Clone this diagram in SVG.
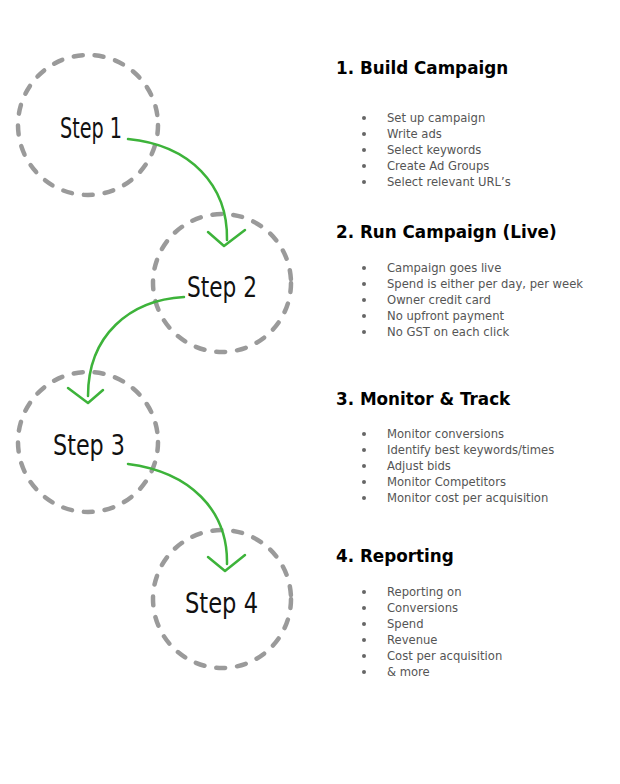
<svg xmlns="http://www.w3.org/2000/svg" width="620" height="784" viewBox="0 0 620 784">
<style>
.ring{fill:none;stroke:#9a9a9a;stroke-width:4.5;stroke-linecap:round;stroke-dasharray:9 12}
.step{font-family:"DejaVu Sans Condensed","DejaVu Sans",sans-serif;font-size:28px;fill:#111}
.arrow{fill:none;stroke:#3db33a;stroke-width:2.5;stroke-linecap:round;stroke-linejoin:round}
.title{font-family:"DejaVu Sans",Verdana,sans-serif;font-weight:bold;font-size:16.8px;fill:#000}
.item{font-family:"DejaVu Sans",Verdana,sans-serif;font-size:11.6px;fill:#555}
.dot{fill:#666}
</style>
<rect width="620" height="784" fill="#fff"/>
<g id="step1"><circle class="ring" cx="88" cy="125" r="70"/><text class="step" x="60" y="138" textLength="62" lengthAdjust="spacingAndGlyphs">Step 1</text></g>
<g id="step2"><circle class="ring" cx="222" cy="283" r="69"/><text class="step" x="187" y="297" textLength="70" lengthAdjust="spacingAndGlyphs">Step 2</text></g>
<g id="step3"><circle class="ring" cx="88" cy="442" r="70"/><text class="step" x="53" y="455" textLength="72" lengthAdjust="spacingAndGlyphs">Step 3</text></g>
<g id="step4"><circle class="ring" cx="222" cy="599" r="69"/><text class="step" x="185" y="613" textLength="73" lengthAdjust="spacingAndGlyphs">Step 4</text></g>
<g id="connectors">
<path class="arrow" d="M128,139 C190,145 228,185 227,240"/>
<path class="arrow" d="M208,232 L224,246 L245,230"/>
<path class="arrow" d="M184,297 C130,300 88,335 88,396"/>
<path class="arrow" d="M68,388 L88,403 L103,390"/>
<path class="arrow" d="M128,464 C190,472 228,510 227,564"/>
<path class="arrow" d="M208,557 L225,571 L245,555"/>
</g>
<g id="section1">
<text class="title" x="336" y="74">1. Build Campaign</text>
<g class="dot"><circle cx="364" cy="118" r="2"/><circle cx="364" cy="134" r="2"/><circle cx="364" cy="150" r="2"/><circle cx="364" cy="166" r="2"/><circle cx="364" cy="182" r="2"/></g>
<text class="item" x="387" y="122">Set up campaign</text>
<text class="item" x="387" y="138">Write ads</text>
<text class="item" x="387" y="154">Select keywords</text>
<text class="item" x="387" y="170">Create Ad Groups</text>
<text class="item" x="387" y="186">Select relevant URL’s</text>
</g>
<g id="section2">
<text class="title" x="336" y="238">2. Run Campaign (Live)</text>
<g class="dot"><circle cx="364" cy="268" r="2"/><circle cx="364" cy="284" r="2"/><circle cx="364" cy="300" r="2"/><circle cx="364" cy="316" r="2"/><circle cx="364" cy="332" r="2"/></g>
<text class="item" x="387" y="272">Campaign goes live</text>
<text class="item" x="387" y="288">Spend is either per day, per week</text>
<text class="item" x="387" y="304">Owner credit card</text>
<text class="item" x="387" y="320">No upfront payment</text>
<text class="item" x="387" y="336">No GST on each click</text>
</g>
<g id="section3">
<text class="title" x="336" y="405">3. Monitor &amp; Track</text>
<g class="dot"><circle cx="364" cy="434" r="2"/><circle cx="364" cy="450" r="2"/><circle cx="364" cy="466" r="2"/><circle cx="364" cy="482" r="2"/><circle cx="364" cy="498" r="2"/></g>
<text class="item" x="387" y="438">Monitor conversions</text>
<text class="item" x="387" y="454">Identify best keywords/times</text>
<text class="item" x="387" y="470">Adjust bids</text>
<text class="item" x="387" y="486">Monitor Competitors</text>
<text class="item" x="387" y="502">Monitor cost per acquisition</text>
</g>
<g id="section4">
<text class="title" x="336" y="562">4. Reporting</text>
<g class="dot"><circle cx="364" cy="592" r="2"/><circle cx="364" cy="608" r="2"/><circle cx="364" cy="624" r="2"/><circle cx="364" cy="640" r="2"/><circle cx="364" cy="656" r="2"/><circle cx="364" cy="672" r="2"/></g>
<text class="item" x="387" y="596">Reporting on</text>
<text class="item" x="387" y="612">Conversions</text>
<text class="item" x="387" y="628">Spend</text>
<text class="item" x="387" y="644">Revenue</text>
<text class="item" x="387" y="660">Cost per acquisition</text>
<text class="item" x="387" y="676">&amp; more</text>
</g>
</svg>
